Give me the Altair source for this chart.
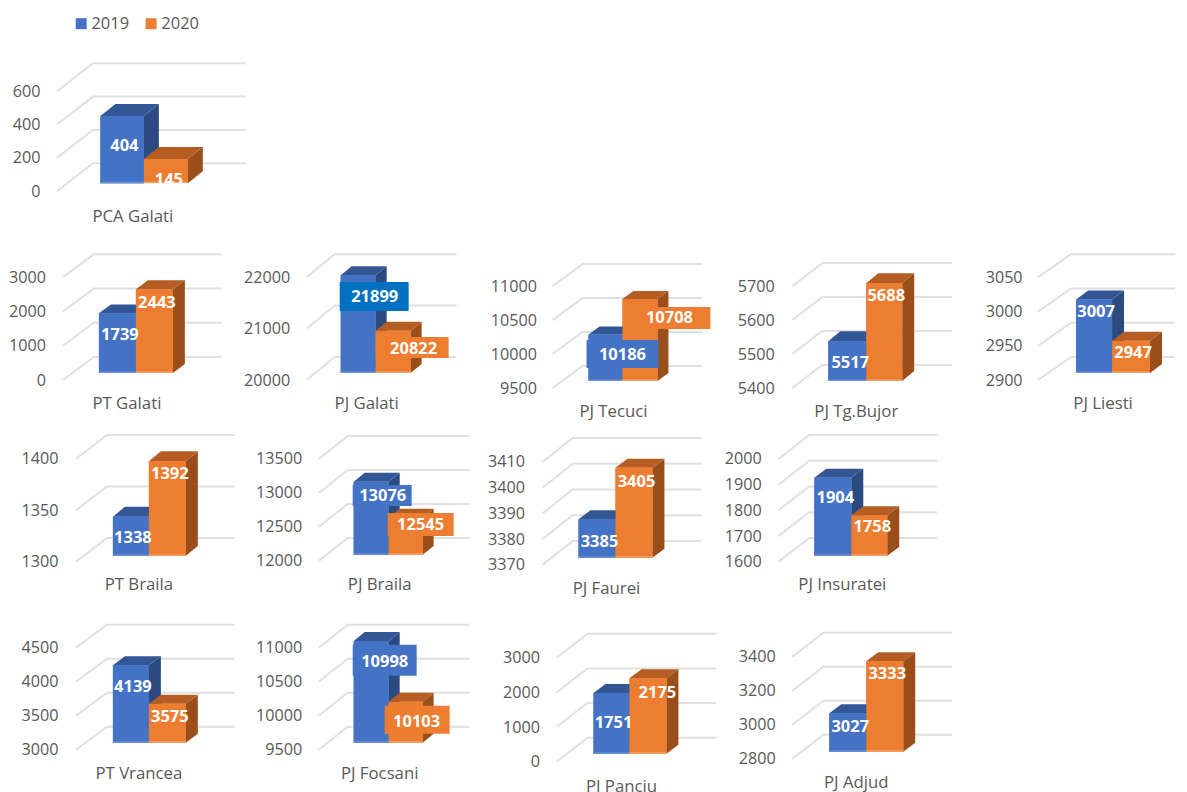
import altair as alt
import pandas as pd

NAMES = ["PCA Galati", "PT Galati", "PJ Galati", "PJ Tecuci", "PJ Tg.Bujor", "PJ Liesti",
         "PT Braila", "PJ Braila", "PJ Faurei", "PJ Insuratei",
         "PT Vrancea", "PJ Focsani", "PJ Panciu", "PJ Adjud"]
V2019 = [404, 1739, 21899, 10186, 5517, 3007, 1338, 13076, 3385, 1904, 4139, 10998, 1751, 3027]
V2020 = [145, 2443, 20822, 10708, 5688, 2947, 1392, 12545, 3405, 1758, 3575, 10103, 2175, 3333]
TICKS = [
    [0, 200, 400, 600],
    [0, 1000, 2000, 3000],
    [20000, 21000, 22000],
    [9500, 10000, 10500, 11000],
    [5400, 5500, 5600, 5700],
    [2900, 2950, 3000, 3050],
    [1300, 1350, 1400],
    [12000, 12500, 13000, 13500],
    [3370, 3380, 3390, 3400, 3410],
    [1600, 1700, 1800, 1900, 2000],
    [3000, 3500, 4000, 4500],
    [9500, 10000, 10500, 11000],
    [0, 1000, 2000, 3000],
    [2800, 3000, 3200, 3400],
]
SERIES = ["2019", "2020"]
BLUE, ORANGE, STRONG_BLUE = "#4472C4", "#ED7D31", "#0070C0"
BLUE_SIDE, BLUE_TOP = "#2B4A80", "#335694"
ORANGE_SIDE, ORANGE_TOP = "#9A4F1B", "#B55D22"
BLUE_EDGE, ORANGE_EDGE = "#6A8FD6", "#F4A06A"
GRID = "#E0E0E0"
TEXT = "#595959"
FONT = "Open Sans"

# page layout of each panel, in screen pixels
ROWS = [
    dict(top=8, h=227, lefts=[8], end=270, idx=[0]),
    dict(top=235, h=190, lefts=[8, 240, 485, 725, 975], end=1176, idx=[1, 2, 3, 4, 5]),
    dict(top=425, h=185, lefts=[8, 250, 485, 720], end=1000, idx=[6, 7, 8, 9]),
    dict(top=610, h=182, lefts=[8, 250, 490, 730], end=1000, idx=[10, 11, 12, 13]),
]
L = [
    dict(lab=40, fx=57, y0=191, y1=91, bx=93, dy=28, right=246, bars=(100.5, 144, 188), base=183, sd=15, sh=12,
         labels=((124.5, 146), (169, 180)), boxes=(None, None), cat=(133, 217), cover=True),
    dict(lab=45.5, fx=63, y0=380, y1=277, bx=94, dy=23, right=222, bars=(99, 136, 173), base=373, sd=12, sh=9,
         labels=((120, 335), (157, 303)), boxes=(None, None), cat=(127, 404)),
    dict(lab=290, fx=307, y0=380, y1=277, bx=335, dy=23, right=457, bars=(341, 376, 411), base=373, sd=11, sh=9,
         labels=((375, 297), (414, 349)), boxes=((340, 409, 282, 311, STRONG_BLUE), (376, 449, 337, 358, ORANGE)), cat=(367, 404)),
    dict(lab=537, fx=553, y0=388, y1=286, bx=583, dy=22, right=703, bars=(589, 623, 658), base=381, sd=11, sh=8,
         labels=((623, 355), (670, 318)), boxes=((587, 659, 340, 368, BLUE), (629, 711, 307, 329, ORANGE)), cat=(614, 412)),
    dict(lab=775, fx=793, y0=388, y1=286, bx=823, dy=23, right=953, bars=(829, 867, 903), base=381, sd=12, sh=10,
         labels=((851, 363), (887, 296)), boxes=(None, None), cat=(857, 412)),
    dict(lab=1023, fx=1039, y0=380, y1=277, bx=1072, dy=23, right=1187, bars=(1077, 1113, 1151), base=373, sd=12, sh=9,
         labels=((1097, 312), (1134, 353)), boxes=(None, None), cat=(1104, 404)),
    dict(lab=58, fx=76, y0=562, y1=459, bx=107, dy=24, right=235, bars=(113, 149, 186), base=556, sd=12, sh=10,
         labels=((133, 538), (170, 474)), boxes=(None, None), cat=(139, 585)),
    dict(lab=302, fx=319, y0=561, y1=459, bx=348, dy=23, right=470, bars=(354, 389, 423), base=555, sd=11, sh=9,
         labels=((383, 496), (421, 525)), boxes=((353, 412, 485, 506, BLUE), (388, 454, 513, 536, ORANGE)), cat=(380, 585)),
    dict(lab=525, fx=543, y0=565, y1=462, bx=573, dy=24, right=702, bars=(579, 616, 653), base=558, sd=12, sh=9,
         labels=((600, 542), (637, 482)), boxes=(None, None), cat=(607, 589)),
    dict(lab=762, fx=779, y0=562, y1=459, bx=810, dy=24, right=938, bars=(815, 852, 888), base=556, sd=12, sh=9,
         labels=((836, 498), (873, 527)), boxes=(None, None), cat=(843, 585)),
    dict(lab=58, fx=76, y0=750, y1=648, bx=107, dy=23, right=235, bars=(113, 149, 186), base=743, sd=12, sh=9,
         labels=((133, 687), (170, 717)), boxes=(None, None), cat=(139, 774)),
    dict(lab=302, fx=319, y0=750, y1=648, bx=348, dy=23, right=470, bars=(354, 389, 423), base=743, sd=11, sh=9,
         labels=((385, 662), (417, 722)), boxes=((353, 417, 645, 676, BLUE), (385, 450, 706, 734, ORANGE)), cat=(380, 774)),
    dict(lab=540, fx=557, y0=762, y1=658, bx=588, dy=24, right=717, bars=(594, 630, 667), base=754, sd=12, sh=9,
         labels=((614, 723), (658, 693)), boxes=(None, None), cat=(622, 787)),
    dict(lab=776, fx=793, y0=759, y1=657, bx=824, dy=24, right=953, bars=(830, 867, 904), base=752, sd=12, sh=9,
         labels=((851, 727), (888, 674)), boxes=(None, None), cat=(857, 783)),
]


def panel(i, top, h, left, w, with_legend):
    g = L[i]
    ticks = TICKS[i]
    vmin, vmax = ticks[0], ticks[-1]
    k = (g["y0"] - g["y1"]) / (vmax - vmin)          # pixels per unit of value

    def val(px):                                     # screen y -> value on this panel's scale
        return vmin + (g["y0"] - px) / k

    xs = alt.Scale(domain=[0, w], range=[0, w], nice=False, zero=False)
    ys = alt.Scale(domain=[val(top + h), val(top)], nice=False, zero=False)
    y_axis = alt.Axis(values=ticks, grid=False, domain=False, ticks=False, labelPadding=0,
                      offset=-(g["lab"] - left), labelFont=FONT, labelFontSize=16.2, labelColor=TEXT,
                      format="d", title=None)
    X = lambda f="x": alt.X(f"{f}:Q", scale=xs, axis=None)
    Y = lambda f="y": alt.Y(f"{f}:Q", scale=ys, axis=y_axis)
    values = (V2019[i], V2020[i])
    lift = (g["y0"] - g["base"]) / k                 # bars stand in the middle of the floor
    a, b, c = g["bars"]
    spans = ((a, b), (b, c))

    layers = []
    # 3D gridlines: out along the floor, then across the back wall
    rows = []
    for t in ticks:
        v = t + g["dy"] / k
        rows += [dict(t=t, o=0, x=g["fx"] - left, y=t), dict(t=t, o=1, x=g["bx"] - left, y=v),
                 dict(t=t, o=2, x=min(g["right"] - left, w), y=v)]
    layers.append(alt.Chart(pd.DataFrame(rows)).mark_line(color=GRID, strokeWidth=2).encode(
        x=X(), y=Y(), detail="t:N", order="o:Q"))

    fronts = pd.DataFrame([
        dict(series=SERIES[s], x=spans[s][0] - left, x2=spans[s][1] - left,
             y=values[s] + lift, y2=vmin + lift) for s in (0, 1)])
    legend = alt.Legend(orient="none", legendX=65, legendY=7, direction="horizontal", title=None,
                        symbolType="square", symbolSize=121, symbolStrokeWidth=0,
                        labelFont=FONT, labelFontSize=16.5, labelColor=TEXT,
                        columnPadding=13, labelOffset=2, padding=0) if with_legend else None
    layers.append(alt.Chart(fronts).mark_bar(strokeWidth=0).encode(
        x=X(), x2="x2:Q", y=Y(), y2="y2:Q",
        color=alt.Color("series:N", scale=alt.Scale(domain=SERIES, range=[BLUE, ORANGE]), legend=legend)))

    side_colors = (BLUE_SIDE, ORANGE_SIDE)
    top_colors = (BLUE_TOP, ORANGE_TOP)
    front_colors = (BLUE, ORANGE)
    edge_colors = (BLUE_EDGE, ORANGE_EDGE)
    sd, sh = g["sd"], g["sh"] / k
    for s in (0, 1):
        xl, xr = spans[s][0] - left, spans[s][1] - left
        hi = values[s] + lift
        side = pd.DataFrame([dict(x=xr, y=hi, y2=vmin + lift), dict(x=xr + sd, y=hi + sh, y2=vmin + lift + sh)])
        roof = pd.DataFrame([dict(x=xl, y=hi, y2=hi), dict(x=xl + sd, y=hi + sh, y2=hi),
                             dict(x=xr, y=hi + sh, y2=hi), dict(x=xr + sd, y=hi + sh, y2=hi + sh)])
        edge = pd.DataFrame([dict(x=xl, x2=xr, y=vmin + lift + 1.5 / k, y2=vmin + lift)])
        layers.append(alt.Chart(side).mark_area(color=side_colors[s]).encode(x=X(), y=Y(), y2="y2:Q"))
        layers.append(alt.Chart(roof).mark_area(color=top_colors[s]).encode(x=X(), y=Y(), y2="y2:Q"))
        layers.append(alt.Chart(fronts.iloc[[s]]).mark_bar(color=front_colors[s], strokeWidth=0).encode(
            x=X(), x2="x2:Q", y=Y(), y2="y2:Q"))
        layers.append(alt.Chart(edge).mark_rect(color=edge_colors[s]).encode(
            x=X(), x2="x2:Q", y=Y(), y2="y2:Q"))

    # data labels and their filled boxes
    for s in (0, 1):
        box = g["boxes"][s]
        if box:
            d = pd.DataFrame([dict(x=box[0] - left, x2=box[1] - left, y=val(box[2]), y2=val(box[3]))])
            layers.append(alt.Chart(d).mark_rect(color=box[4]).encode(x=X(), x2="x2:Q", y=Y(), y2="y2:Q"))
    labels = pd.DataFrame([dict(x=g["labels"][s][0] - left, y=val(g["labels"][s][1]), t=str(values[s])) for s in (0, 1)])
    layers.append(alt.Chart(labels).mark_text(
        font=FONT, fontSize=16.5, fontWeight="bold", color="white", align="center", baseline="middle"
    ).encode(x=X(), y=Y(), text="t:N"))
    if g.get("cover"):
        d = pd.DataFrame([dict(x=b - left, x2=c - left, y=val(g["base"]), y2=val(g["base"] + 8))])
        layers.append(alt.Chart(d).mark_rect(color="white").encode(x=X(), x2="x2:Q", y=Y(), y2="y2:Q"))

    cat = pd.DataFrame([dict(x=g["cat"][0] - left, y=val(g["cat"][1]), t=NAMES[i])])
    layers.append(alt.Chart(cat).mark_text(
        font=FONT, fontSize=16.8, color=TEXT, align="center", baseline="middle"
    ).encode(x=X(), y=Y(), text="t:N"))

    return alt.layer(*layers).resolve_scale(x="shared", y="shared").properties(width=w, height=h)


rows = []
for r in ROWS:
    edges = r["lefts"] + [r["end"]]
    cells = []
    for n, i in enumerate(r["idx"]):
        cells.append(panel(i, r["top"], r["h"], edges[n], edges[n + 1] - edges[n], i == 0))
    rows.append(alt.hconcat(*cells, spacing=0, bounds="flush"))

chart = alt.vconcat(*rows, spacing=0).properties(
    padding=0, background="white"
).configure_view(strokeWidth=0)

chart.save("out.html", embed_options={"renderer": "svg", "actions": False})
